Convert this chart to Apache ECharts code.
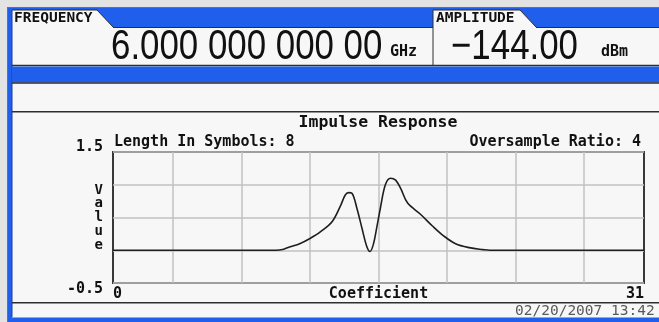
<!DOCTYPE html>
<html>
<head>
<meta charset="utf-8">
<title>Impulse Response</title>
<script src="https://cdn.jsdelivr.net/npm/echarts@6/dist/echarts.min.js"></script>
<style>
  html, body { margin: 0; padding: 0; background: #f7f7f7; }
  #chart { width: 659px; height: 322px; }
</style>
</head>
<body>
<div id="chart"></div>
<script>
// Filter coefficient index (x) and impulse response value (y)
const coefIndex = [
  0, 1, 2, 3, 4, 5, 6, 7, 8, 9, 9.5, 9.9, 10.3, 10.9, 11.5, 12.1, 12.8, 13.3,
  13.55, 13.75, 13.95, 14.25, 14.55, 14.8, 15.0, 15.2, 15.4, 15.6, 15.9, 16.2,
  16.5, 16.8, 17.2, 17.95, 18.65, 19.3, 20.0, 20.8, 21.6, 22, 23, 24, 25, 26,
  27, 28, 29, 30, 31
];
const responseValue = [
  0, 0, 0, 0, 0, 0, 0, 0, 0, 0, 0, 0.01, 0.05, 0.1, 0.18, 0.28, 0.44, 0.69,
  0.84, 0.88, 0.87, 0.63, 0.32, 0.07, -0.02, 0.09, 0.35, 0.63, 1.0, 1.1,
  1.07, 0.94, 0.72, 0.55, 0.37, 0.22, 0.1, 0.04, 0.01, 0, 0, 0, 0, 0,
  0, 0, 0, 0, 0
];
// Vertical grid divisions (between symbol boundaries)
const gridDivisions = [3.5, 7.5, 11.5, 15.5, 19.5, 23.5, 27.5];
// Axis ranges and end labels
const xRange = [0, 31];
const yRange = [-0.5, 1.5];
const yStep = 0.5;

// Instrument readouts
const frequencyLabel = 'FREQUENCY';
const frequencyValue = '6.000 000 000 00';
const frequencyUnit = 'GHz';
const amplitudeLabel = 'AMPLITUDE';
const amplitudeValue = '\u2212144.00';
const amplitudeUnit = 'dBm';
const plotTitle = 'Impulse Response';
const lengthText = 'Length In Symbols: 8';
const oversampleText = 'Oversample Ratio: 4';
const timestamp = '02/20/2007 13:42';

const MONO = "'DejaVu Sans Mono', 'Liberation Mono', monospace";
const SANS = "'Liberation Sans', Arial, sans-serif";
const BLUE = '#1f5fec';
const DARK = '#2e2e2e';
const PANEL = '#f7f7f7';

function rect(x, y, w, h, fill) {
  return { type: 'rect', silent: true, shape: { x: x, y: y, width: w, height: h }, style: { fill: fill } };
}
function hline(x1, x2, y, color, w) {
  return { type: 'line', silent: true, shape: { x1: x1, y1: y, x2: x2, y2: y }, style: { stroke: color, lineWidth: w } };
}
function vline(x, y1, y2, color, w) {
  return { type: 'line', silent: true, shape: { x1: x, y1: y1, x2: x, y2: y2 }, style: { stroke: color, lineWidth: w } };
}
function label(text, x, y, opts) {
  const o = opts || {};
  return {
    type: 'text', silent: true, x: x, y: y,
    scaleX: o.scaleX || 1,
    style: {
      text: text,
      fontFamily: o.family || MONO,
      fontSize: o.size || 15,
      fontWeight: o.weight || 'bold',
      fill: o.color || '#111',
      align: o.align || 'left', textAlign: o.align || 'left',
      verticalAlign: 'middle', textVerticalAlign: 'middle'
    }
  };
}
function tab(x0, x1, x2) {
  return [
    { type: 'polygon', silent: true, shape: { points: [[x0, 10], [x1, 10], [x2, 27], [x0, 27]] }, style: { fill: PANEL } },
    { type: 'polyline', silent: true, shape: { points: [[x0, 10], [x1, 10], [x2, 27]] }, style: { stroke: DARK, lineWidth: 1, fill: null } }
  ];
}

const frame = [
  // outer bezel
  rect(0, 0, 659, 8, '#e3e3e3'),
  rect(0, 0, 8, 322, '#e3e3e3'),
  hline(7, 659, 7.5, '#707070', 1),
  vline(7.5, 7, 322, '#707070', 1),
  // blue border and header strip
  rect(8, 8, 4, 314, BLUE),
  rect(8, 317.5, 651, 5, BLUE),
  rect(12, 8, 647, 19, BLUE),
  ...tab(12, 97, 113),
  ...tab(433, 520, 536),
  hline(113, 433, 27.5, DARK, 1),
  hline(536, 659, 27.5, DARK, 1),
  vline(433, 10, 65, DARK, 1),
  vline(12, 10, 317, '#1a3fa0', 1),
  // status band
  hline(12, 659, 65.5, DARK, 1.5),
  rect(12, 66.5, 647, 16, BLUE),
  hline(12, 659, 83, DARK, 1.5),
  hline(12, 659, 111.8, DARK, 1.5),
  hline(12, 659, 302.8, DARK, 1.5)
];

const texts = [
  label(frequencyLabel, 14, 18.5, { size: 14.5 }),
  label(amplitudeLabel, 436, 18.5, { size: 14.5 }),
  label(frequencyValue, 111, 47, { family: SANS, size: 42, weight: 'normal', scaleX: 0.83 }),
  label(frequencyUnit, 390, 52, { size: 15 }),
  label(amplitudeValue, 451, 47, { family: SANS, size: 42, weight: 'normal', scaleX: 0.83 }),
  label(amplitudeUnit, 601, 52, { size: 15 }),
  label(plotTitle, 378, 123, { size: 16.5, align: 'center' }),
  label(lengthText, 114, 142, { size: 15 }),
  label(oversampleText, 641, 142, { size: 15, align: 'right' }),
  label(timestamp, 515, 311.5, { size: 14.5, weight: 'normal', color: '#5a5a5a' })
];

const chart = echarts.init(document.getElementById('chart'), null, { renderer: 'canvas' });
chart.setOption({
  animation: false,
  backgroundColor: PANEL,
  graphic: { elements: frame.concat(texts) },
  grid: {
    left: 113, top: 152, width: 531, height: 131,
    show: true, borderColor: '#383838', borderWidth: 2, backgroundColor: 'transparent'
  },
  xAxis: {
    type: 'value', min: xRange[0], max: xRange[1], interval: xRange[1] - xRange[0],
    axisLine: { show: false }, axisTick: { show: false }, splitLine: { show: false },
    axisLabel: {
      margin: 4, color: '#111', fontFamily: MONO, fontWeight: 'bold', fontSize: 15,
      alignMinLabel: 'left', alignMaxLabel: 'right'
    },
    name: 'Coefficient', nameLocation: 'middle', nameGap: 4, nameMoveOverlap: false,
    nameTextStyle: { color: '#111', fontFamily: MONO, fontWeight: 'bold', fontSize: 15, verticalAlign: 'top' }
  },
  yAxis: {
    type: 'value', min: yRange[0], max: yRange[1], interval: yStep,
    axisLine: { show: false }, axisTick: { show: false },
    splitLine: { show: true, lineStyle: { color: '#c2c2c2', width: 1.5 } },
    axisLabel: {
      margin: 10, color: '#111', fontFamily: MONO, fontWeight: 'bold', fontSize: 15,
      formatter: function (v) {
        if (v === yRange[1]) return '{top|' + v + '}';
        if (v === yRange[0]) return '{bot|' + v + '}';
        return '';
      },
      rich: {
        top: { fontFamily: MONO, fontWeight: 'bold', fontSize: 15, color: '#111', padding: [0, 0, 10, 0] },
        bot: { fontFamily: MONO, fontWeight: 'bold', fontSize: 15, color: '#111', padding: [12, 0, 0, 0] }
      }
    },
    name: 'V\na\nl\nu\ne', nameLocation: 'middle', nameGap: 10, nameRotate: 0, nameMoveOverlap: false,
    nameTextStyle: { color: '#111', fontFamily: MONO, fontWeight: 'bold', fontSize: 14, lineHeight: 13.8, align: 'right', verticalAlign: 'middle' }
  },
  series: [{
    type: 'line',
    data: coefIndex.map(function (c, i) { return [c, responseValue[i]]; }),
    showSymbol: false,
    smooth: 0.35,
    lineStyle: { color: '#1e1e1e', width: 1.6 },
    z: 3,
    markLine: {
      silent: true, symbol: ['none', 'none'], label: { show: false },
      lineStyle: { color: '#c2c2c2', width: 1.5, type: 'solid' },
      data: gridDivisions.map(function (v) { return { xAxis: v }; }),
      z: 1
    }
  }]
});
</script>
</body>
</html>
